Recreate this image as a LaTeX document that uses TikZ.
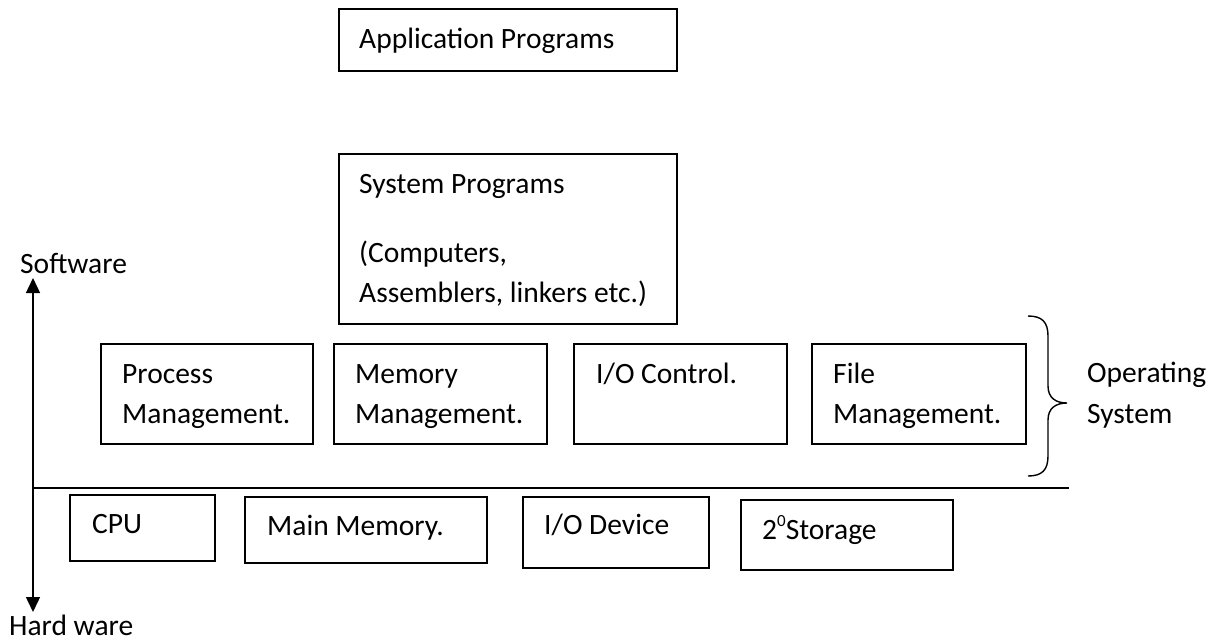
\documentclass[tikz,border=0pt]{standalone}
\usepackage{fontspec}
\setmainfont{Carlito}
\usetikzlibrary{arrows.meta}
\begin{document}
\begin{tikzpicture}[x=1pt,y=-1pt,
  box/.style={draw, line width=1.5pt, inner sep=0pt},
  txt/.style={anchor=base west, inner sep=0pt, font=\fontsize{29.5}{34}\selectfont},
  rule/.style={line width=1.4pt}]
\useasboundingbox (0,0) rectangle (1210,641);
% boxes
\node[box, minimum width=338pt, minimum height=62pt] (app) at (508,40) {};
\node[box, minimum width=338pt, minimum height=170pt] (sys) at (508,239) {};
\node[box, minimum width=212pt, minimum height=100pt] (proc) at (207,394) {};
\node[box, minimum width=213pt, minimum height=100pt] (mem) at (440.5,394) {};
\node[box, minimum width=213pt, minimum height=100pt] (ioc) at (680.5,394) {};
\node[box, minimum width=214pt, minimum height=100pt] (file) at (919,394) {};
\node[box, minimum width=145pt, minimum height=66pt] (cpu) at (142.5,528) {};
\node[box, minimum width=242pt, minimum height=66pt] (mm) at (366,530) {};
\node[box, minimum width=186pt, minimum height=71pt] (iod) at (616,532.5) {};
\node[box, minimum width=212pt, minimum height=70pt] (sto) at (847,535) {};
% texts
\node[txt] (tapp) at (359,48) {Application Programs};
\node[txt] (tsys1) at (359,193) {System Programs};
\node[txt] (tsys2) at (359,262) {(Computers,};
\node[txt] (tsys3) at (359,302) {Assemblers, linkers etc.)};
\node[txt] (tproc1) at (122,383) {Process};
\node[txt] (tproc2) at (122,423) {Management.};
\node[txt] (tmem1) at (355,383) {Memory};
\node[txt] (tmem2) at (355,423) {Management.};
\node[txt] (tioc) at (596,383) {I/O Control.};
\node[txt] (tfile1) at (833,383) {File};
\node[txt] (tfile2) at (833,423) {Management.};
\node[txt] (tos1) at (1087,382) {Operating};
\node[txt] (tos2) at (1087,423) {System};
\node[txt] (tcpu) at (92,533) {CPU};
\node[txt] (tmm) at (267,535) {Main Memory.};
\node[txt] (tiod) at (544,534) {I/O Device};
\node[txt] (tsto) at (762,539) {2\raisebox{0.42em}{\fontsize{17}{17}\selectfont 0}Storage};
\node[txt] (tsw) at (20,273) {Software};
\node[txt] (thw) at (9,635) {Hard ware};
% axis
\coordinate (top) at (33,278);
\coordinate (bot) at (33,612);
\coordinate (hl) at (33,488);
\coordinate (hr) at (1069,488);
\draw[rule, {Triangle[width=14pt,length=15pt]}-{Triangle[width=14pt,length=15pt]}] (top) -- (bot);
\draw[rule] (hl) -- (hr);
% brace
\coordinate (b1) at (1028,316);
\coordinate (bt) at (1067,403);
\coordinate (b2) at (1028,476);
\draw[rule] (b1) .. controls (1042,316) and (1048,322) .. (1048,336)
  -- (1048,386) .. controls (1048,398) and (1056,403) .. (bt)
  .. controls (1056,403) and (1048,408) .. (1048,420)
  -- (1048,456) .. controls (1048,470) and (1042,476) .. (b2);
\end{tikzpicture}
\end{document}
